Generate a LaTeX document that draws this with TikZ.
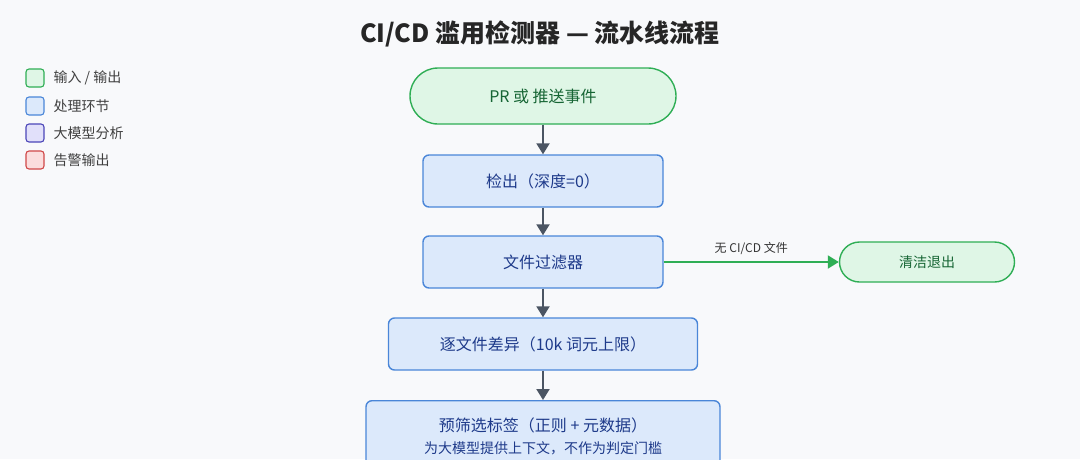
\documentclass[tikz,border=0pt]{standalone}
\usepackage{fontspec}
\setmainfont{Noto Sans CJK SC}
\usetikzlibrary{arrows.meta}
\definecolor{bg}{HTML}{F8F9FB}
\definecolor{gfill}{HTML}{DFF6E6}
\definecolor{gline}{HTML}{2FAE55}
\definecolor{bfill}{HTML}{DCE9FB}
\definecolor{bline}{HTML}{4A86D8}
\definecolor{pfill}{HTML}{E1E0FA}
\definecolor{pline}{HTML}{4B46B8}
\definecolor{rfill}{HTML}{FBDDDD}
\definecolor{rline}{HTML}{D04848}
\definecolor{btext}{HTML}{1E3A8A}
\definecolor{gtext}{HTML}{166534}
\definecolor{arr}{HTML}{4B5563}
\tikzset{
  x=1pt,y=-1pt,
  io/.style={draw=gline,fill=gfill,line width=1.4pt,rounded corners=28pt,text=gtext,font=\fontsize{16}{18}\selectfont,minimum height=56pt,align=center},
  proc/.style={draw=bline,fill=bfill,line width=1.4pt,rounded corners=6pt,text=btext,font=\fontsize{16}{18}\selectfont,minimum height=52pt,align=center},
  flow/.style={draw=arr,line width=2pt,-{Triangle[length=11pt,width=13pt]}},
  leg/.style={draw,line width=1.1pt,rounded corners=3pt,minimum size=18pt,inner sep=0pt},
  legt/.style={anchor=west,font=\fontsize{14}{16}\selectfont,text=black!75},
}
\begin{document}
\begin{tikzpicture}
\fill[bg] (0,0) rectangle (1080,459);
\useasboundingbox (0,0) rectangle (1080,459);
\node[font=\bfseries\fontsize{25}{28}\selectfont,text=black!85] (title) at (540,34) {CI/CD 滥用检测器 — 流水线流程};
\node[leg,draw=gline,fill=gfill] (l1) at (35,78) {};
\node[leg,draw=bline,fill=bfill] (l2) at (35,106) {};
\node[leg,draw=pline,fill=pfill] (l3) at (35,133) {};
\node[leg,draw=rline,fill=rfill] (l4) at (35,160) {};
\node[legt] (t1) at (50,78) {输入 / 输出};
\node[legt] (t2) at (50,106) {处理环节};
\node[legt] (t3) at (50,133) {大模型分析};
\node[legt] (t4) at (50,160) {告警输出};
\node[io,minimum width=266pt] (start) at (543,96) {PR 或 推送事件};
\node[proc,minimum width=240pt] (co) at (543,181) {检出（深度=0）};
\node[proc,minimum width=240pt] (ff) at (543,262) {文件过滤器};
\node[io,minimum width=175pt,minimum height=40pt,rounded corners=20pt,font=\fontsize{14}{16}\selectfont] (exit) at (927,262) {清洁退出};
\node[proc,minimum width=309pt] (diff) at (543,344) {逐文件差异（10k 词元上限）};
\node[proc,minimum width=354pt,minimum height=72pt,anchor=north] (pre) at (543,400) {\fontsize{16}{18}\selectfont 预筛选标签（正则 + 元数据）\\[4pt]{\fontsize{14}{16}\selectfont 为大模型提供上下文，不作为判定门槛}};
\draw[flow] (start) -- (co);
\draw[flow] (co) -- (ff);
\draw[flow] (ff) -- (diff);
\draw[flow] (diff) -- (pre);
\draw[flow,draw=gline] (ff) -- node[above=3pt,font=\fontsize{12}{14}\selectfont,text=black!80] {无 CI/CD 文件} (exit);
\end{tikzpicture}
\end{document}
